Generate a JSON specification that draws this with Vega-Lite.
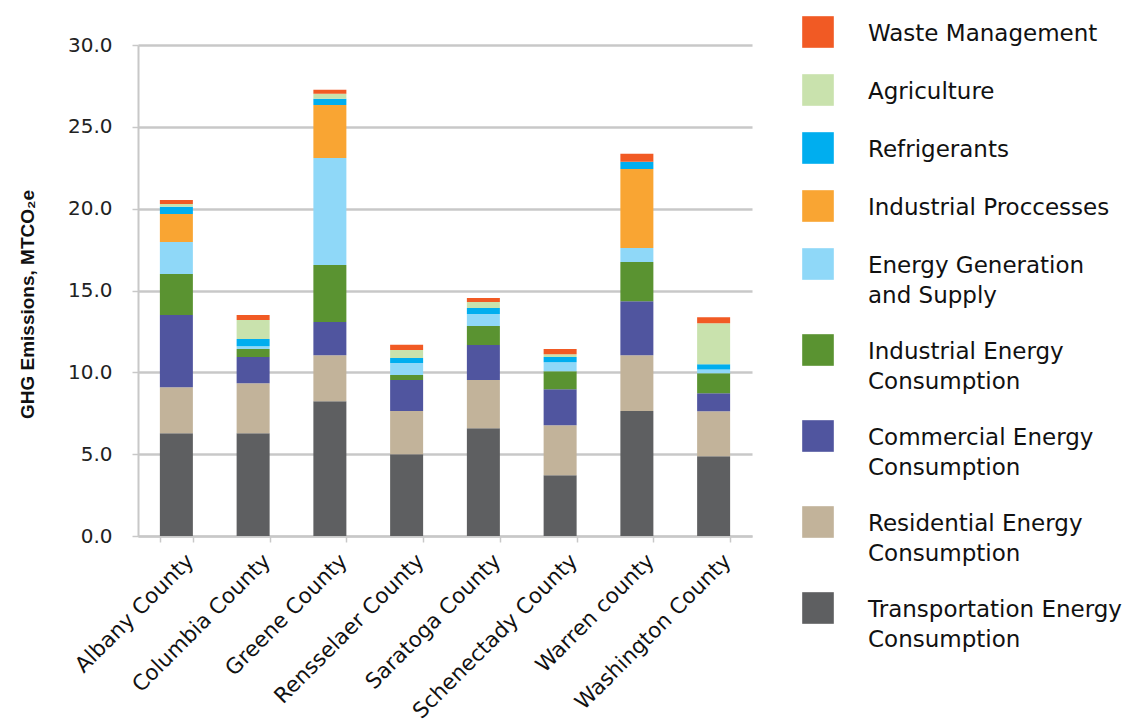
{
  "$schema": "https://vega.github.io/schema/vega-lite/v6.json",
  "autosize": {"type": "none"},
  "width": 614,
  "height": 491,
  "padding": {"left": 138, "top": 45, "right": 375, "bottom": 187},
  "background": "white",
  "config": {
    "view": {"stroke": null},
    "font": "DejaVu Sans"
  },
  "data": {
    "values": [
      {"county": "Albany County", "sector": "Transportation Energy Consumption", "value": 6.28},
      {"county": "Albany County", "sector": "Residential Energy Consumption", "value": 2.81},
      {"county": "Albany County", "sector": "Commercial Energy Consumption", "value": 4.41},
      {"county": "Albany County", "sector": "Industrial Energy Consumption", "value": 2.51},
      {"county": "Albany County", "sector": "Energy Generation and Supply", "value": 1.96},
      {"county": "Albany County", "sector": "Industrial Proccesses", "value": 1.71},
      {"county": "Albany County", "sector": "Refrigerants", "value": 0.43},
      {"county": "Albany County", "sector": "Agriculture", "value": 0.18},
      {"county": "Albany County", "sector": "Waste Management", "value": 0.24},

      {"county": "Columbia County", "sector": "Transportation Energy Consumption", "value": 6.28},
      {"county": "Columbia County", "sector": "Residential Energy Consumption", "value": 3.06},
      {"county": "Columbia County", "sector": "Commercial Energy Consumption", "value": 1.59},
      {"county": "Columbia County", "sector": "Industrial Energy Consumption", "value": 0.49},
      {"county": "Columbia County", "sector": "Energy Generation and Supply", "value": 0.18},
      {"county": "Columbia County", "sector": "Industrial Proccesses", "value": 0.0},
      {"county": "Columbia County", "sector": "Refrigerants", "value": 0.43},
      {"county": "Columbia County", "sector": "Agriculture", "value": 1.16},
      {"county": "Columbia County", "sector": "Waste Management", "value": 0.31},

      {"county": "Greene County", "sector": "Transportation Energy Consumption", "value": 8.24},
      {"county": "Greene County", "sector": "Residential Energy Consumption", "value": 2.81},
      {"county": "Greene County", "sector": "Commercial Energy Consumption", "value": 2.02},
      {"county": "Greene County", "sector": "Industrial Energy Consumption", "value": 3.49},
      {"county": "Greene County", "sector": "Energy Generation and Supply", "value": 6.54},
      {"county": "Greene County", "sector": "Industrial Proccesses", "value": 3.24},
      {"county": "Greene County", "sector": "Refrigerants", "value": 0.37},
      {"county": "Greene County", "sector": "Agriculture", "value": 0.31},
      {"county": "Greene County", "sector": "Waste Management", "value": 0.24},

      {"county": "Rensselaer County", "sector": "Transportation Energy Consumption", "value": 5.0},
      {"county": "Rensselaer County", "sector": "Residential Energy Consumption", "value": 2.63},
      {"county": "Rensselaer County", "sector": "Commercial Energy Consumption", "value": 1.9},
      {"county": "Rensselaer County", "sector": "Industrial Energy Consumption", "value": 0.31},
      {"county": "Rensselaer County", "sector": "Energy Generation and Supply", "value": 0.73},
      {"county": "Rensselaer County", "sector": "Industrial Proccesses", "value": 0.0},
      {"county": "Rensselaer County", "sector": "Refrigerants", "value": 0.31},
      {"county": "Rensselaer County", "sector": "Agriculture", "value": 0.49},
      {"county": "Rensselaer County", "sector": "Waste Management", "value": 0.31},

      {"county": "Saratoga County", "sector": "Transportation Energy Consumption", "value": 6.59},
      {"county": "Saratoga County", "sector": "Residential Energy Consumption", "value": 2.94},
      {"county": "Saratoga County", "sector": "Commercial Energy Consumption", "value": 2.14},
      {"county": "Saratoga County", "sector": "Industrial Energy Consumption", "value": 1.16},
      {"county": "Saratoga County", "sector": "Energy Generation and Supply", "value": 0.73},
      {"county": "Saratoga County", "sector": "Industrial Proccesses", "value": 0.0},
      {"county": "Saratoga County", "sector": "Refrigerants", "value": 0.37},
      {"county": "Saratoga County", "sector": "Agriculture", "value": 0.37},
      {"county": "Saratoga County", "sector": "Waste Management", "value": 0.24},

      {"county": "Schenectady County", "sector": "Transportation Energy Consumption", "value": 3.71},
      {"county": "Schenectady County", "sector": "Residential Energy Consumption", "value": 3.06},
      {"county": "Schenectady County", "sector": "Commercial Energy Consumption", "value": 2.2},
      {"county": "Schenectady County", "sector": "Industrial Energy Consumption", "value": 1.1},
      {"county": "Schenectady County", "sector": "Energy Generation and Supply", "value": 0.55},
      {"county": "Schenectady County", "sector": "Industrial Proccesses", "value": 0.0},
      {"county": "Schenectady County", "sector": "Refrigerants", "value": 0.31},
      {"county": "Schenectady County", "sector": "Agriculture", "value": 0.18},
      {"county": "Schenectady County", "sector": "Waste Management", "value": 0.31},

      {"county": "Warren county", "sector": "Transportation Energy Consumption", "value": 7.63},
      {"county": "Warren county", "sector": "Residential Energy Consumption", "value": 3.42},
      {"county": "Warren county", "sector": "Commercial Energy Consumption", "value": 3.3},
      {"county": "Warren county", "sector": "Industrial Energy Consumption", "value": 2.39},
      {"county": "Warren county", "sector": "Energy Generation and Supply", "value": 0.86},
      {"county": "Warren county", "sector": "Industrial Proccesses", "value": 4.83},
      {"county": "Warren county", "sector": "Refrigerants", "value": 0.43},
      {"county": "Warren county", "sector": "Agriculture", "value": 0.0},
      {"county": "Warren county", "sector": "Waste Management", "value": 0.49},

      {"county": "Washington County", "sector": "Transportation Energy Consumption", "value": 4.87},
      {"county": "Washington County", "sector": "Residential Energy Consumption", "value": 2.75},
      {"county": "Washington County", "sector": "Commercial Energy Consumption", "value": 1.1},
      {"county": "Washington County", "sector": "Industrial Energy Consumption", "value": 1.22},
      {"county": "Washington County", "sector": "Energy Generation and Supply", "value": 0.24},
      {"county": "Washington County", "sector": "Industrial Proccesses", "value": 0.0},
      {"county": "Washington County", "sector": "Refrigerants", "value": 0.31},
      {"county": "Washington County", "sector": "Agriculture", "value": 2.51},
      {"county": "Washington County", "sector": "Waste Management", "value": 0.37}
    ]
  },
  "transform": [
    {"calculate": "indexof(['Transportation Energy Consumption','Residential Energy Consumption','Commercial Energy Consumption','Industrial Energy Consumption','Energy Generation and Supply','Industrial Proccesses','Refrigerants','Agriculture','Waste Management'], datum.sector)", "as": "stackOrder"}
  ],
  "mark": {"type": "bar", "width": 33},
  "encoding": {
    "x": {
      "field": "county",
      "type": "nominal",
      "sort": null,
      "scale": {"paddingInner": 0.57, "paddingOuter": 0.285},
      "axis": {
        "title": null,
        "labelAngle": -45,
        "labelAlign": "right",
        "labelBaseline": "top",
        "labelFontSize": 21.5,
        "labelLimit": 400,
        "labelColor": "#111111",
        "labelPadding": 8,
        "labelOffset": 6,
        "domainColor": "#c8c8c8",
        "domainWidth": 2,
        "tickColor": "#c8c8c8",
        "tickWidth": 1.5,
        "tickSize": 6,
        "tickBand": "extent",
        "grid": false
      }
    },
    "y": {
      "field": "value",
      "type": "quantitative",
      "aggregate": "sum",
      "stack": "zero",
      "scale": {"domain": [0, 30], "nice": false},
      "axis": {
        "title": "GHG Emissions, MTCO₂e",
        "titleFont": "Liberation Sans",
        "titleFontSize": 19,
        "titleFontWeight": "bold",
        "titleColor": "#111111",
        "titlePadding": 30,
        "titleY": 259,
        "values": [0, 5, 10, 15, 20, 25, 30],
        "format": ".1f",
        "labelFontSize": 20,
        "labelColor": "#222222",
        "labelPadding": 20,
        "domainColor": "#c8c8c8",
        "domainWidth": 2,
        "tickColor": "#c8c8c8",
        "tickSize": 6,
        "tickWidth": 1.5,
        "grid": true,
        "gridColor": "#c8c8c8",
        "gridWidth": 2.5
      }
    },
    "color": {
      "field": "sector",
      "type": "nominal",
      "scale": {
        "domain": ["Waste Management", "Agriculture", "Refrigerants", "Industrial Proccesses", "Energy Generation and Supply", "Industrial Energy Consumption", "Commercial Energy Consumption", "Residential Energy Consumption", "Transportation Energy Consumption"],
        "range": ["#f15a24", "#c9e2ad", "#00aeef", "#f9a533", "#8fd8f8", "#5a9331", "#50559f", "#c2b39a", "#5e5f61"]
      },
      "legend": {
        "title": null,
        "orient": "none",
        "legendX": 664,
        "legendY": -29,
        "symbolType": "square",
        "symbolSize": 1000,
        "symbolStrokeWidth": 0,
        "labelFontSize": 23,
        "labelColor": "#111111",
        "labelOffset": 34,
        "labelLimit": 400,
        "rowPadding": 26,
        "labelExpr": "indexof(datum.label, ' Consumption') > 0 ? [replace(datum.label, ' Consumption', ''), 'Consumption'] : datum.label == 'Energy Generation and Supply' ? ['Energy Generation', 'and Supply'] : datum.label",
        "encode": {
          "labels": {
            "update": {
              "baseline": {"value": "top"},
              "dy": {"value": -9},
              "lineHeight": {"value": 30}
            }
          }
        }
      }
    },
    "order": {"field": "stackOrder", "type": "quantitative", "sort": "ascending"}
  }
}
